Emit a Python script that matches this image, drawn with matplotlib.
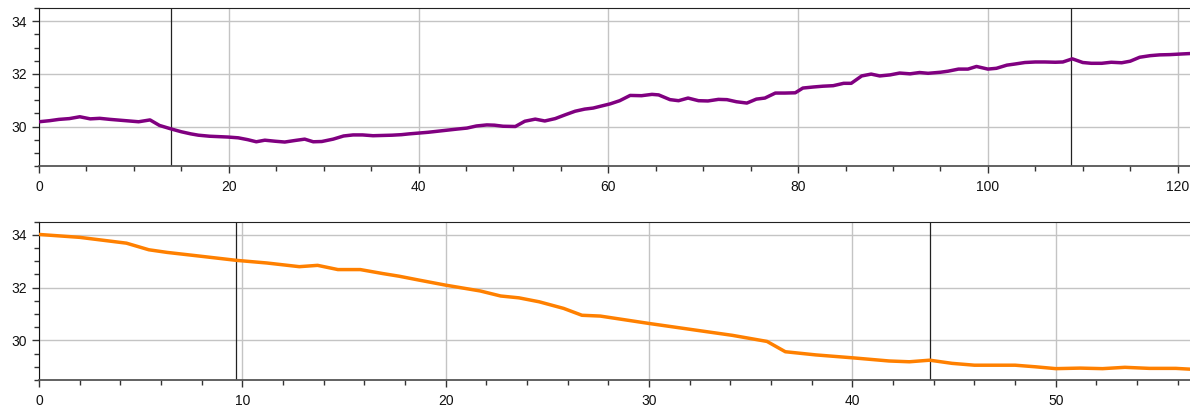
import matplotlib
matplotlib.use("Agg")
import matplotlib.pyplot as plt
from matplotlib.ticker import MultipleLocator

plt.rcParams['font.family'] = ['Liberation Sans', 'DejaVu Sans']

# upper series (purple)
top_x = [0, 1.1, 2.1, 3.2, 4.3, 5.4, 6.4, 7.5, 8.5, 9.5, 10.5, 11.7, 12.7, 13.9, 15.0, 16.0,
         16.8, 18.0, 19.9, 21.0, 22.0, 22.9, 23.8, 24.9, 25.9, 27.0, 28.0, 28.9, 29.8, 31.0,
         32.1, 33.1, 34.1, 35.2, 36.2, 37.2, 38.2, 39.0, 40.0, 41.0, 42.0, 43.0, 44.0, 45.1,
         46.1, 47.2, 48.0, 48.9, 50.2, 51.2, 52.3, 53.3, 54.4, 55.5, 56.5, 57.5, 58.4, 59.3,
         60.2, 61.2, 62.3, 63.5, 64.6, 65.3, 66.5, 67.4, 68.4, 69.5, 70.5, 71.6, 72.5, 73.5,
         74.6, 75.6, 76.5, 77.6, 78.6, 79.7, 80.5, 81.6, 82.6, 83.7, 84.8, 85.6, 86.7, 87.7,
         88.6, 89.7, 90.7, 91.8, 92.8, 93.7, 95.0, 95.8, 96.9, 97.9, 98.8, 100.0, 100.9, 102.0,
         102.8, 103.9, 105.0, 106.0, 107.1, 107.9, 108.9, 110.0, 110.9, 112.0, 113.0, 114.1,
         115.0, 116.0, 117.1, 118.1, 119.2, 120.2, 121.3]
top_y = [30.18, 30.22, 30.27, 30.30, 30.37, 30.29, 30.31, 30.27, 30.24, 30.21, 30.18, 30.25,
         30.04, 29.91, 29.80, 29.72, 29.67, 29.63, 29.60, 29.57, 29.50, 29.42, 29.48, 29.44,
         29.41, 29.47, 29.52, 29.42, 29.43, 29.52, 29.64, 29.68, 29.68, 29.65, 29.66, 29.67,
         29.69, 29.72, 29.75, 29.78, 29.82, 29.86, 29.90, 29.94, 30.02, 30.06, 30.05, 30.01,
         30.00, 30.20, 30.28, 30.21, 30.30, 30.45, 30.58, 30.66, 30.70, 30.78, 30.86, 30.98,
         31.18, 31.17, 31.22, 31.20, 31.02, 30.98, 31.08, 30.98, 30.97, 31.03, 31.02, 30.94,
         30.89, 31.04, 31.08, 31.27, 31.27, 31.28, 31.46, 31.50, 31.53, 31.55, 31.64, 31.64,
         31.92, 31.99, 31.92, 31.96, 32.03, 32.00, 32.05, 32.02, 32.06, 32.10, 32.18, 32.18,
         32.28, 32.18, 32.21, 32.33, 32.37, 32.43, 32.45, 32.45, 32.44, 32.45, 32.57, 32.43,
         32.40, 32.40, 32.44, 32.42, 32.48, 32.63, 32.69, 32.72, 32.73, 32.75, 32.77]
top_marks = [13.9, 108.8]

# lower series (orange)
bot_x = [0, 2.0, 4.3, 5.4, 6.3, 7.9, 9.7, 11.2, 12.8, 13.7, 14.7, 15.8, 16.9, 17.7, 18.7,
         20.0, 21.7, 22.7, 23.6, 24.6, 25.8, 26.7, 27.6, 30.0, 32.0, 34.1, 35.8, 36.7, 38.2,
         40.0, 41.8, 42.8, 43.8, 44.9, 46.0, 48.0, 49.0, 50.0, 51.2, 52.3, 53.4, 54.6, 55.9,
         56.6]
bot_y = [34.01, 33.90, 33.68, 33.43, 33.33, 33.19, 33.03, 32.93, 32.79, 32.84, 32.68, 32.68,
         32.53, 32.43, 32.28, 32.09, 31.87, 31.68, 31.61, 31.46, 31.21, 30.95, 30.92, 30.64,
         30.42, 30.19, 29.96, 29.57, 29.45, 29.34, 29.22, 29.19, 29.25, 29.13, 29.06, 29.06,
         29.00, 28.93, 28.95, 28.93, 28.98, 28.94, 28.94, 28.91]
bot_marks = [9.7, 43.8]

W, H = 1190, 409
fig = plt.figure(figsize=(W / 100, H / 100), dpi=100)
ax1 = fig.add_axes([39 / W, 1 - 166 / H, 1 - 39 / W, (166 - 8) / H])
ax2 = fig.add_axes([39 / W, 1 - 380 / H, 1 - 39 / W, (380 - 221.5) / H])

panels = [
    (ax1, top_x, top_y, top_marks, '#800080', 20, 5),
    (ax2, bot_x, bot_y, bot_marks, '#ff8000', 10, 2),
]
for ax, xs, ys, marks, color, major, minor in panels:
    ax.plot(xs, ys, color=color, lw=2.5, solid_joinstyle='round', zorder=3)
    for m in marks:
        ax.axvline(m, color='#222222', lw=0.9, zorder=2)
    ax.set_xlim(0, xs[-1])
    ax.set_ylim(28.5, 34.5)
    ax.xaxis.set_major_locator(MultipleLocator(major))
    ax.xaxis.set_minor_locator(MultipleLocator(minor))
    ax.yaxis.set_major_locator(MultipleLocator(2))
    ax.yaxis.set_minor_locator(MultipleLocator(0.5))
    ax.grid(True, which='major', color='#c4c4c4', lw=1)
    ax.set_axisbelow(True)
    ax.spines['right'].set_visible(False)
    ax.spines['top'].set_color('#222222')
    ax.spines['left'].set_color('#111111')
    ax.spines['bottom'].set_color('#555555')
    ax.spines['bottom'].set_linewidth(1.3)
    ax.tick_params(which='major', length=5, width=1, color='#333333',
                   labelsize=10, labelcolor='#111111')
    ax.tick_params(which='minor', length=3.5, width=1, color='#333333')
    ax.tick_params(axis='x', pad=5)

fig.savefig('out.png', dpi=100)
